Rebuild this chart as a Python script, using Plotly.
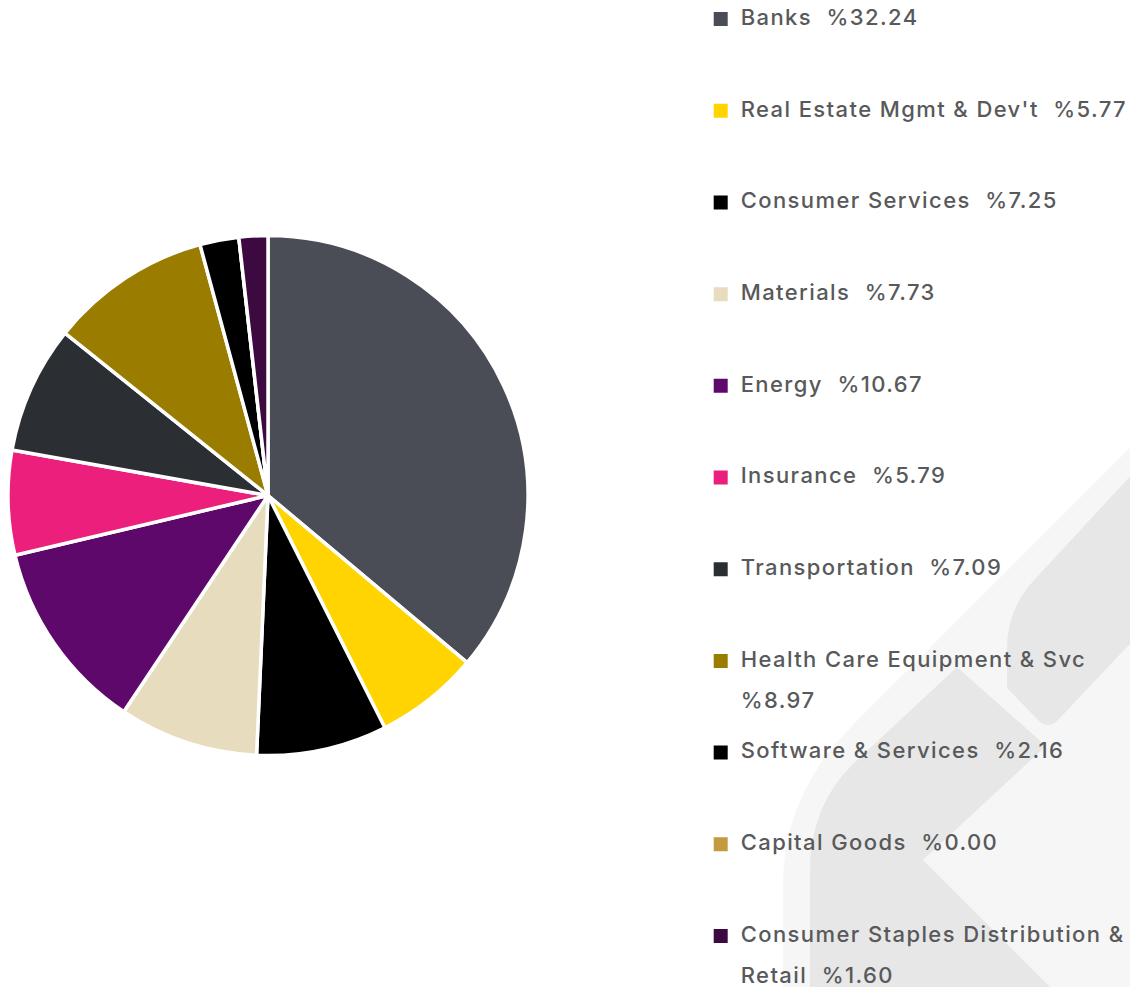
import re
import textwrap
import plotly.graph_objects as go

W, H = 1138, 987
OFF = 8  # page body margin in the browser

sectors = ["Banks", "Real Estate Mgmt & Dev't", "Consumer Services", "Materials", "Energy",
           "Insurance", "Transportation", "Health Care Equipment & Svc", "Software & Services",
           "Capital Goods", "Consumer Staples Distribution & Retail"]
weights = [32.24, 5.77, 7.25, 7.73, 10.67, 5.79, 7.09, 8.97, 2.16, 0.00, 1.60]
colors = ["#4a4d56", "#ffd400", "#000000", "#e8dcbe", "#5e086b", "#ec1f7c",
          "#2b2e33", "#9a7d00", "#000000", "#c49a3e", "#3c0a40"]

TEXT_PX = 22
LEG_FONT = 22.74          # 3 legend lines per entry -> ~91.7 px per entry
SHIFT1 = 2.6              # raise first line to sit on the swatch
SHIFT2 = -8.8             # push the wrapped line down (~41 px below first line)


def span(text, shift):
    style = f"font-size:{TEXT_PX}px;baseline-shift:{shift}px;letter-spacing:1.4px;font-weight:500"
    return f'<span style="{style}">{text}</span>'


def legend_label(name, w):
    lines = textwrap.wrap(f"{name}\u00a0 %{w:.2f}", width=32)
    second = span(lines[1], SHIFT2) if len(lines) > 1 else " "
    return span(lines[0], SHIFT1) + "<br>" + second + "<br> "


labels = [legend_label(n, w) for n, w in zip(sectors, weights)]


def paper_path(p):
    def conv(m):
        x, y = float(m.group(1)) - OFF, float(m.group(2)) - OFF
        return f"{x / W:.5f},{1 - y / H:.5f}"
    return re.sub(r"(-?\d+\.?\d*),(-?\d+\.?\d*)", conv, p)


fig = go.Figure()

# legend carrier (tiny, hidden under the main pie)
fig.add_trace(go.Pie(
    labels=labels, values=weights, sort=False, direction="clockwise", rotation=0,
    marker=dict(colors=colors, line=dict(color=colors, width=2)),
    textinfo="none", hoverinfo="skip",
    domain=dict(x=[375 / W, 385 / W], y=[437 / H, 447 / H]),
    showlegend=True,
))

# main pie
fig.add_trace(go.Pie(
    labels=labels, values=weights, sort=False, direction="clockwise", rotation=0,
    marker=dict(colors=colors, line=dict(color="#ffffff", width=3.5)),
    textinfo="none", customdata=sectors,
    hovertemplate="%{customdata}: %{value:.2f}%<extra></extra>",
    domain=dict(x=[0, 520 / W], y=[239.5 / H, 759.5 / H]),
    showlegend=False,
))

shapes = [
    dict(type="path", path=paper_path("M1160,418 L852,726 Q783,795 783,885 L783,1010 L1160,1010 Z"),
         fillcolor="#f6f6f6", line=dict(width=0), xref="paper", yref="paper", layer="below"),
    dict(type="path", path=paper_path("M957,667 L1046,746 L923,860 L1073,1010 L810,1010 L810,870 Q810,807 852,765 Z"),
         fillcolor="#e7e7e7", line=dict(width=0), xref="paper", yref="paper", layer="below"),
    dict(type="path", path=paper_path("M1160,444 L1036,578 Q1007,608 1007,648 L1007,688 L1038,720 Q1048,730 1058,720 L1160,612 Z"),
         fillcolor="#e7e7e7", line=dict(width=0), xref="paper", yref="paper", layer="below"),
]

fig.update_layout(
    width=W, height=H,
    margin=dict(l=0, r=0, t=0, b=0, autoexpand=False),
    paper_bgcolor="#ffffff", plot_bgcolor="#ffffff",
    shapes=shapes,
    legend=dict(x=692.7 / W, xanchor="left", y=1 + 10.2 / H, yanchor="top",
                bgcolor="rgba(0,0,0,0)", borderwidth=0,
                font=dict(family="Inter", size=LEG_FONT, color="#58595b"),
                valign="top", traceorder="normal", maxheight=1200),
)

fig.write_html("out.html")
